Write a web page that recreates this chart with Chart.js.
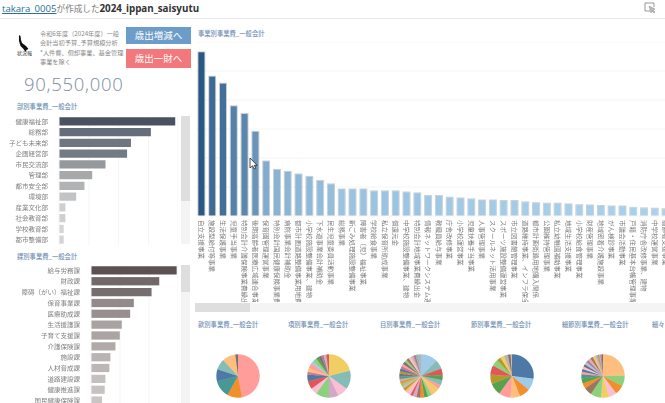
<!DOCTYPE html>
<html>
<head>
<meta charset="utf-8">
<script src="https://cdn.jsdelivr.net/npm/chart.js@4"></script>
<style>
html, body { margin: 0; padding: 0; background: #fff; }
body { width: 665px; height: 403px; overflow: hidden; position: relative; font-family: "Noto Sans CJK JP", sans-serif; }
canvas, .abs { position: absolute; }
.head { left: 2px; top: 0; font-size: 8.6px; line-height: 17px; color: #777; white-space: nowrap; }
.head a { color: #2a6f97; text-decoration: underline; font: 9.6px "Open Sans", sans-serif; }
.head b { color: #333; font: bold 9.8px "Open Sans", sans-serif; }
.rule { left: 0; top: 18px; width: 665px; height: 1px; background: #e8e8e8; }
.note { left: 40px; top: 29px; font-size: 6.2px; line-height: 9.3px; color: #8a8a8a; white-space: nowrap; }
.btn { left: 126px; width: 65px; color: #fff; font-size: 9.5px; text-align: center; }
.big { left: 24px; top: 72px; font: 300 18.5px/24px "Open Sans", sans-serif; letter-spacing: .7px; color: #7c8da0; }
.ttl { font-size: 6.3px; line-height: 10px; color: #7290b2; white-space: nowrap; font-weight: 500; }
.track { background: #f4f4f4; }
.thumb { background: #dedede; }
</style>
</head>
<body>
<div class="abs head"><a>takara_0005</a>が作成した<b>2024_ippan_saisyutu</b></div>
<div class="abs rule"></div>
<svg class="abs" style="left:644px;top:2px" width="13" height="12" viewBox="0 0 13 12"><path d="M1 1h9v4M1 1v8h5" fill="none" stroke="#999"/><path d="M5 4l6 3-2 1 2 2-1 1-2-2-1 2z" fill="#bbb" stroke="#888" stroke-width=".5"/></svg>
<svg class="abs" style="left:18px;top:35px" width="11" height="17" viewBox="0 0 11 17"><path d="M1 0l1.500 1 .5 4 1 3 4 3 2.500 3-2 1-1 2-2-3-3-3-1.500-5z" fill="#111"/></svg>
<div class="abs" style="left:17px;top:49px;font-size:5px;line-height:7px;color:#333">状況報</div>
<div class="abs note">令和6年度（2024年度）一般<br>会計当初予算_予算規模分析<br>*人件費、償却事業、基金管理<br>事業を除く</div>
<div class="abs btn" style="top:27px;height:17px;line-height:17px;background:#6c9dc9">歳出増減へ</div>
<div class="abs btn" style="top:49px;height:19px;line-height:19px;background:#f2787b">歳出一財へ</div>
<div class="abs big">90,550,000</div>

<div class="abs ttl" style="left:17px;top:102px">部別事業費_一般会計</div>
<div class="abs ttl" style="left:17px;top:252px">課別事業費_一般会計</div>
<div class="abs ttl" style="left:198px;top:29px">事業別事業費_一般会計</div>
<div class="abs ttl" style="left:198px;top:320px">款別事業費_一般会計</div>
<div class="abs ttl" style="left:288px;top:320px">項別事業費_一般会計</div>
<div class="abs ttl" style="left:380px;top:320px">目別事業費_一般会計</div>
<div class="abs ttl" style="left:471px;top:320px">節別事業費_一般会計</div>
<div class="abs ttl" style="left:562px;top:320px">細節別事業費_一般会計</div>
<div class="abs ttl" style="left:652px;top:320px">細々</div>

<div class="abs track" style="left:181px;top:116px;width:9px;height:128px"></div>
<div class="abs thumb" style="left:181px;top:116px;width:9px;height:85px"></div>
<div class="abs track" style="left:181px;top:265px;width:9px;height:138px"></div>
<div class="abs thumb" style="left:181px;top:265px;width:9px;height:27px"></div>
<div class="abs track" style="left:195px;top:303px;width:470px;height:9px"></div>
<div class="abs thumb" style="left:195px;top:303px;width:55px;height:9px"></div>

<canvas id="deptChart" style="left:0;top:116px;width:178px;height:129px"></canvas>
<canvas id="sectionChart" style="left:0;top:265px;width:178px;height:141px"></canvas>
<canvas id="projectChart" style="left:196px;top:42px;width:475px;height:260px"></canvas>
<canvas id="pie1" style="left:215px;top:353px;width:46px;height:46px"></canvas>
<canvas id="pie2" style="left:306px;top:353px;width:46px;height:46px"></canvas>
<canvas id="pie3" style="left:398px;top:353px;width:46px;height:46px"></canvas>
<canvas id="pie4" style="left:489px;top:353px;width:46px;height:46px"></canvas>
<canvas id="pie5" style="left:580px;top:353px;width:46px;height:46px"></canvas>
<svg class="abs" style="left:249px;top:157px" width="9" height="13" viewBox="0 0 9 13"><path d="M1 1v10l2.500-2.200L5.200 12l1.600-.7-1.600-3H8z" fill="#fff" stroke="#222" stroke-width=".8"/></svg>

<script>
const deptNames = ["健康福祉部", "総務部", "子ども未来部", "企画経営部", "市民交流部", "管理部", "都市安全部", "環境部", "産業文化部", "社会教育部", "学校教育部", "都市整備部"];
const deptValues = [21000000, 16600000, 13000000, 12300000, 8400000, 6000000, 4600000, 3100000, 1150000, 1150000, 850000, 850000];
const deptColors = ["#4a5160", "#666d7a", "#6f7680", "#747a83", "#95989d", "#a6a8aa", "#b0b2b4", "#c2c3c4", "#cfcfcf", "#cfcfcf", "#d4d4d4", "#d4d4d4"];

const sectionNames = ["給与労務課", "財政課", "障碍（がい）福祉課", "保育事業課", "医療助成課", "生活援護課", "子育て支援課", "介護保険課", "施設課", "人材育成課", "道路建設課", "健康推進課", "国民健康保険課"];
const sectionValues = [5120000, 4080000, 3620000, 2560000, 2340000, 1840000, 1720000, 1460000, 1160000, 1100000, 860000, 820000, 660000];
const sectionColors = ["#5b5152", "#71686a", "#766d6e", "#938b8b", "#978f8f", "#a9a2a1", "#aba4a3", "#b0aaa9", "#b9b4b3", "#bcb7b6", "#c4c0bf", "#c6c2c1", "#c9c5c4"];

const projectNames = ["自立支援事業", "施設型給付等事業", "生活保護事業", "児童手当事業", "特別会計介護保険事業費繰出金", "後期高齢者医療広域連合事業費負担金", "保育園管理運営事業", "特別会計国民健康保険事業費繰出金", "病院事業会計補助金", "都市計画道路整備事業用地費", "小学校施設整備事業、建物", "下水道事業会計補助金", "民生児童委員活動事業", "総務事業", "新ごみ処理施設整備事業", "障害者（児）福祉事業", "学校給食事業", "私立保育所助成事業", "償還元金", "中学校施設整備事業、建物", "特別会計地域事業費繰出金", "情報ネットワークシステム運用", "教職員給与事業", "庁舎改修事業", "小学校運営事業", "児童扶養手当事業", "人事管理事業", "スクールネット活用事業", "スポーツ施設整備運営事業", "市立図書館管理事業", "道路維持事業、インフラ保全", "都市計画街路用地購入関係", "公園維持管理事業", "私立幼稚園補助事業", "地域生活支援事業", "小学校給食管理事業", "財産管理事業", "地域密着介護施設事業", "がん検診事業", "市議会活動事業", "戸籍・住民基本台帳管理事業", "消防庁舎改修事業、建物", "中学校運営事業", "高齢者支援事業"];
const projectValues = [5680000, 4840000, 4600000, 3820000, 3550000, 2940000, 1920000, 1630000, 1560000, 1470000, 1390000, 1240000, 1130000, 950000, 950000, 950000, 890000, 890000, 890000, 850000, 820000, 730000, 730000, 670000, 640000, 610000, 570000, 570000, 550000, 550000, 510000, 480000, 460000, 460000, 440000, 410000, 400000, 380000, 360000, 360000, 320000, 300000, 290000, 270000];
const projectTicks = [0, 1000000, 2000000, 3000000, 4000000, 5000000, 6000000];

const pie1Values = [47, 11, 13, 9, 8, 10, 2];
const pie1Colors = ["#ff9d9a", "#f28e2b", "#499894", "#4e79a7", "#86bcb6", "#ffbe7d", "#79706e"];
const pie2Values = [21, 14, 8, 7, 10, 5, 6, 5, 2, 3, 4, 2, 3, 2, 2, 2, 1, 1, 2];
const pie2Colors = ["#f1ce63", "#86bcb6", "#fabfd2", "#d4a6c8", "#8cd17d", "#fabfd2", "#e15759", "#4e79a7", "#d37295", "#ffbe7d", "#ff9d9a", "#a0cbe8", "#8cd17d", "#59a14f", "#79706e", "#b07aa1", "#d7b5a6", "#bab0ac", "#e15759"];
const pie3Values = [13, 7, 5, 4, 4, 3, 4, 3, 3, 3, 3, 3, 3, 2, 3, 2, 2, 2, 2, 2, 2, 2, 2, 2, 2, 2, 2, 2, 2, 2, 2, 2, 2, 2, 2];
const pie3Colors = ["#a0cbe8", "#86bcb6", "#e15759", "#59a14f", "#86bcb6", "#ff9d9a", "#f1ce63", "#ffbe7d", "#8cd17d", "#59a14f", "#f28e2b", "#9d7660", "#d4a6c8", "#e15759", "#fabfd2", "#ffbe7d", "#b6992d", "#d7b5a6", "#8cd17d", "#f28e2b", "#bab0ac", "#499894", "#79706e", "#b6992d", "#4e79a7", "#d37295", "#ff9d9a", "#79706e", "#8cd17d", "#9d7660", "#fabfd2", "#d7b5a6", "#b07aa1", "#86bcb6", "#bab0ac"];
const pie4Values = [27, 9, 8, 7, 9, 9, 7, 7, 5, 3, 3, 3, 2, 1];
const pie4Colors = ["#4e79a7", "#a0cbe8", "#f28e2b", "#ffbe7d", "#ff9d9a", "#59a14f", "#b6992d", "#e15759", "#8cd17d", "#b6992d", "#f1ce63", "#bab0ac", "#79706e", "#d7b5a6"];
const pie5Values = [25, 8, 7, 6, 6, 8, 6, 4, 4, 3, 2, 2, 2, 2, 2, 2, 2, 2, 2, 1, 1, 1, 1, 1, 1];
const pie5Colors = ["#ffbe7d", "#8cd17d", "#f28e2b", "#fabfd2", "#f1ce63", "#8cd17d", "#9d7660", "#f28e2b", "#59a14f", "#499894", "#ff9d9a", "#4e79a7", "#fabfd2", "#79706e", "#a0cbe8", "#b07aa1", "#d7b5a6", "#9d7660", "#ffbe7d", "#d4a6c8", "#86bcb6", "#b6992d", "#bab0ac", "#d37295", "#79706e"];

Chart.defaults.animation = false;
Chart.defaults.responsive = false;
Chart.defaults.devicePixelRatio = 2;
Chart.defaults.font.family = '"Noto Sans CJK JP", sans-serif';
Chart.defaults.plugins.legend.display = false;
Chart.defaults.plugins.tooltip.enabled = false;

const sizeCanvas = (id) => {
    const c = document.getElementById(id);
    c.width = parseInt(c.style.width);
    c.height = parseInt(c.style.height);
    return c;
};

const makeHBar = (id, names, values, colors, axisWidth, xMax, step) => {
    new Chart(sizeCanvas(id), {
        type: "bar",
        data: { labels: names, datasets: [{ data: values, backgroundColor: colors, barPercentage: 0.76, categoryPercentage: 1 }] },
        options: {
            indexAxis: "y",
            layout: { padding: 0 },
            scales: {
                x: {
                    min: 0, max: xMax,
                    border: { display: false },
                    ticks: { display: false, stepSize: step },
                    grid: { color: "#f5f5f5", drawTicks: false }
                },
                y: {
                    // drop the half-label padding so the rows fill the canvas
                    afterFit: (s) => { s.width = axisWidth; s.paddingTop = 0; s.paddingBottom = 0; },
                    border: { display: false },
                    grid: { display: false },
                    ticks: { autoSkip: false, color: "#7a7a7a", font: { size: 6.5 }, padding: 3 }
                }
            }
        }
    });
};

makeHBar("deptChart", deptNames, deptValues, deptColors, 59, 21500000, 5000000);
makeHBar("sectionChart", sectionNames, sectionValues, sectionColors, 91, 5200000, 2000000);

// labels run downward from the axis, which chart.js ticks can't do on their own
const downLabels = {
    id: "downLabels",
    afterDraw(chart) {
        const ctx = chart.ctx;
        const x = chart.scales.x;
        ctx.save();
        ctx.font = '6.5px "Noto Sans CJK JP", sans-serif';
        ctx.fillStyle = "#7a7a7a";
        ctx.textBaseline = "middle";
        projectNames.forEach((name, i) => {
            ctx.save();
            ctx.translate(x.getPixelForValue(i), chart.chartArea.bottom + 4);
            ctx.rotate(Math.PI / 2);
            ctx.fillText(name, 0, 0);
            ctx.restore();
        });
        ctx.restore();
    }
};

const hi = [42, 87, 131], lo = [169, 210, 238];
const blueFor = (v) => {
    const t = (v - 270000) / (5680000 - 270000);
    const mix = lo.map((c, i) => Math.round(c + (hi[i] - c) * t));
    return "rgb(" + mix.join(",") + ")";
};

new Chart(sizeCanvas("projectChart"), {
    type: "bar",
    data: {
        labels: projectNames,
        datasets: [{
            data: projectValues,
            backgroundColor: projectValues.map(blueFor),
            borderColor: "rgba(110,120,130,.35)",
            borderWidth: 1,
            barPercentage: 0.75,
            categoryPercentage: 1
        }]
    },
    options: {
        layout: { padding: { bottom: 86 } },
        scales: {
            x: { border: { display: false }, grid: { display: false, drawTicks: false }, ticks: { display: false } },
            y: {
                min: 0, max: 6000000,
                afterBuildTicks: (s) => { s.ticks = projectTicks.map((v) => ({ value: v })); },
                border: { display: false },
                ticks: { display: false },
                grid: { color: "#f4f4f4", drawTicks: false }
            }
        }
    },
    plugins: [downLabels]
});

const makePie = (id, values, colors) => {
    new Chart(sizeCanvas(id), {
        type: "pie",
        data: { datasets: [{ data: values, backgroundColor: colors, borderWidth: 0 }] },
        options: { radius: 21.7, layout: { padding: 0 } }
    });
};

makePie("pie1", pie1Values, pie1Colors);
makePie("pie2", pie2Values, pie2Colors);
makePie("pie3", pie3Values, pie3Colors);
makePie("pie4", pie4Values, pie4Colors);
makePie("pie5", pie5Values, pie5Colors);
</script>
</body>
</html>
